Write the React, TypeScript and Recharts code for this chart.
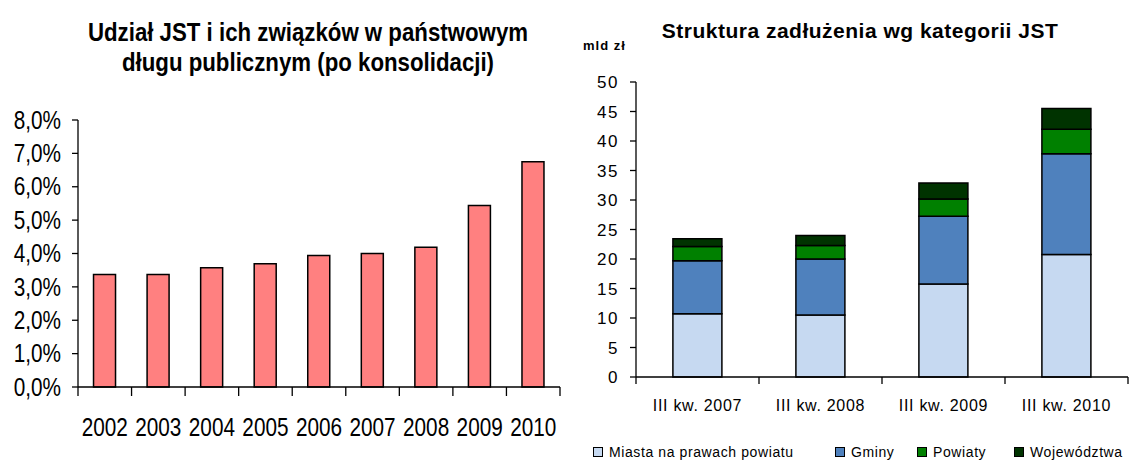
import { Bar, BarChart, Legend, XAxis, YAxis } from "recharts";

// lewy wykres: udział JST w długu publicznym (%)
const years = ["2002", "2003", "2004", "2005", "2006", "2007", "2008", "2009", "2010"];
const shareValues = [3.37, 3.37, 3.57, 3.69, 3.94, 4.0, 4.19, 5.44, 6.75];
const shareTicks = [0, 1, 2, 3, 4, 5, 6, 7, 8];

// prawy wykres: struktura zadłużenia (mld zł)
const quarters = ["III kw. 2007", "III kw. 2008", "III kw. 2009", "III kw. 2010"];
const miasta = [10.7, 10.5, 15.75, 20.75];
const gminy = [9.0, 9.5, 11.5, 17.1];
const powiaty = [2.4, 2.3, 2.9, 4.15];
const wojewodztwa = [1.35, 1.7, 2.75, 3.5];
const debtTicks = [0, 5, 10, 15, 20, 25, 30, 35, 40, 45, 50];

const seriesNames = ["Miasta na prawach powiatu", "Gminy", "Powiaty", "Województwa"];
const seriesColors = ["#C6D9F1", "#4F81BD", "#008000", "#003300"];

const SANS = "'Liberation Sans', Arial, sans-serif";
const NARROW_SCALE = 0.83; // no Arial Narrow here, squeeze Liberation Sans instead

const shareData = years.map((y, i) => ({ year: y, share: shareValues[i] }));
const debtData = quarters.map((q, i) => ({
  q,
  miasta: miasta[i],
  gminy: gminy[i],
  powiaty: powiaty[i],
  woj: wojewodztwa[i],
}));

// category label + tick marks on the band edges (Excel style)
const BandTick = (props: any) => {
  const { x, y, payload, count, lineLen, textDy, font, squeeze = 1 } = props;
  const half = payload.offset ?? 0;
  const edges = [x - half];
  if (payload.index === count - 1) edges.push(x + half);
  return (
    <g>
      {edges.map((ex, i) => (
        <line key={i} x1={ex} x2={ex} y1={y} y2={y + lineLen} stroke="#000" strokeWidth={1.3} />
      ))}
      <text
        transform={`translate(${x},${y + textDy}) scale(${squeeze},1)`}
        textAnchor="middle"
        fill="#000"
        {...font}
      >
        {payload.value}
      </text>
    </g>
  );
};

const NarrowYTick = (props: any) => {
  const { x, y, payload } = props;
  return (
    <text
      transform={`translate(${x},${y}) scale(${NARROW_SCALE},1)`}
      textAnchor="end"
      dominantBaseline="central"
      fill="#000"
      fontFamily={SANS}
      fontSize={25}
    >
      {payload.value.toFixed(1).replace(".", ",") + "%"}
    </text>
  );
};

const DebtLegend = () => {
  const lefts = [23, 265, 347, 444];
  return (
    <div style={{ position: "relative", height: 24, fontFamily: SANS, fontSize: 14 }}>
      {seriesNames.map((name, i) => (
        <div
          key={name}
          style={{
            position: "absolute",
            left: lefts[i],
            top: 0,
            height: 24,
            display: "flex",
            alignItems: "center",
            whiteSpace: "nowrap",
            letterSpacing: 0.6,
          }}
        >
          <span
            style={{
              display: "inline-block",
              width: 8,
              height: 8,
              border: "1px solid #000",
              background: seriesColors[i],
              marginRight: 6,
            }}
          />
          {name}
        </div>
      ))}
    </div>
  );
};

export default function App() {
  return (
    <div style={{ position: "absolute", left: 0, top: 0, width: 1134, height: 464, background: "#fff" }}>
      <div
        style={{
          position: "absolute",
          left: 0,
          top: 17,
          width: 616,
          textAlign: "center",
          fontFamily: SANS,
          fontWeight: "bold",
          fontSize: 25,
          lineHeight: "30px",
          color: "#000",
          transform: "scaleX(0.89)",
          transformOrigin: "308px 0",
        }}
      >
        Udział JST i ich związków w państwowym
        <br />
        długu publicznym (po konsolidacji)
      </div>

      <div style={{ position: "absolute", left: 0, top: 0 }}>
        <BarChart
          width={565}
          height={464}
          data={shareData}
          margin={{ top: 120, right: 5, left: 0, bottom: 0 }}
          barCategoryGap="29%"
        >
          <XAxis
            dataKey="year"
            interval={0}
            height={77}
            tickSize={0}
            tickMargin={0}
            tickLine={false}
            axisLine={{ stroke: "#000", strokeWidth: 1.3 }}
            tick={(p: any) => (
              <BandTick
                {...p}
                count={years.length}
                lineLen={9}
                textDy={49}
                squeeze={NARROW_SCALE}
                font={{ fontFamily: SANS, fontSize: 25 }}
              />
            )}
          />
          <YAxis
            width={78}
            domain={[0, 8]}
            ticks={shareTicks}
            interval={0}
            tickSize={6}
            tickMargin={11}
            axisLine={{ stroke: "#000", strokeWidth: 1.3 }}
            tickLine={{ stroke: "#000", strokeWidth: 1.3 }}
            tick={(p: any) => <NarrowYTick {...p} />}
          />
          <Bar
            dataKey="share"
            fill="#FF8080"
            stroke="#000"
            strokeWidth={1.5}
            isAnimationActive={false}
          />
        </BarChart>
      </div>

      <div
        style={{
          position: "absolute",
          left: 560,
          top: 19,
          width: 600,
          textAlign: "center",
          fontFamily: SANS,
          fontWeight: "bold",
          fontSize: 21,
          lineHeight: "24px",
          letterSpacing: 0.5,
          color: "#000",
        }}
      >
        Struktura zadłużenia wg kategorii JST
      </div>
      <div
        style={{
          position: "absolute",
          left: 583,
          top: 38,
          fontFamily: SANS,
          fontWeight: "bold",
          fontSize: 13,
          lineHeight: "16px",
          letterSpacing: 1,
          color: "#000",
        }}
      >
        mld zł
      </div>

      <div style={{ position: "absolute", left: 570, top: 0 }}>
        <BarChart
          width={564}
          height={464}
          data={debtData}
          margin={{ top: 82, right: 6, left: 0, bottom: 0 }}
          barCategoryGap="30%"
        >
          <XAxis
            dataKey="q"
            interval={0}
            height={63}
            tickSize={0}
            tickMargin={0}
            tickLine={false}
            axisLine={{ stroke: "#000", strokeWidth: 1.3 }}
            tick={(p: any) => (
              <BandTick
                {...p}
                count={quarters.length}
                lineLen={7}
                textDy={34}
                font={{ fontFamily: SANS, fontSize: 16, letterSpacing: 0.7 }}
              />
            )}
          />
          <YAxis
            width={66}
            domain={[0, 50]}
            ticks={debtTicks}
            interval={0}
            tickSize={6}
            tickMargin={11}
            axisLine={{ stroke: "#000", strokeWidth: 1.3 }}
            tickLine={{ stroke: "#000", strokeWidth: 1.3 }}
            tick={{ fill: "#000", fontFamily: SANS, fontSize: 17, letterSpacing: 1.5 }}
          />
          <Legend verticalAlign="bottom" height={24} content={() => <DebtLegend />} />
          <Bar dataKey="miasta" name={seriesNames[0]} stackId="a" fill={seriesColors[0]} stroke="#000" strokeWidth={1.5} isAnimationActive={false} />
          <Bar dataKey="gminy" name={seriesNames[1]} stackId="a" fill={seriesColors[1]} stroke="#000" strokeWidth={1.5} isAnimationActive={false} />
          <Bar dataKey="powiaty" name={seriesNames[2]} stackId="a" fill={seriesColors[2]} stroke="#000" strokeWidth={1.5} isAnimationActive={false} />
          <Bar dataKey="woj" name={seriesNames[3]} stackId="a" fill={seriesColors[3]} stroke="#000" strokeWidth={1.5} isAnimationActive={false} />
        </BarChart>
      </div>
    </div>
  );
}
